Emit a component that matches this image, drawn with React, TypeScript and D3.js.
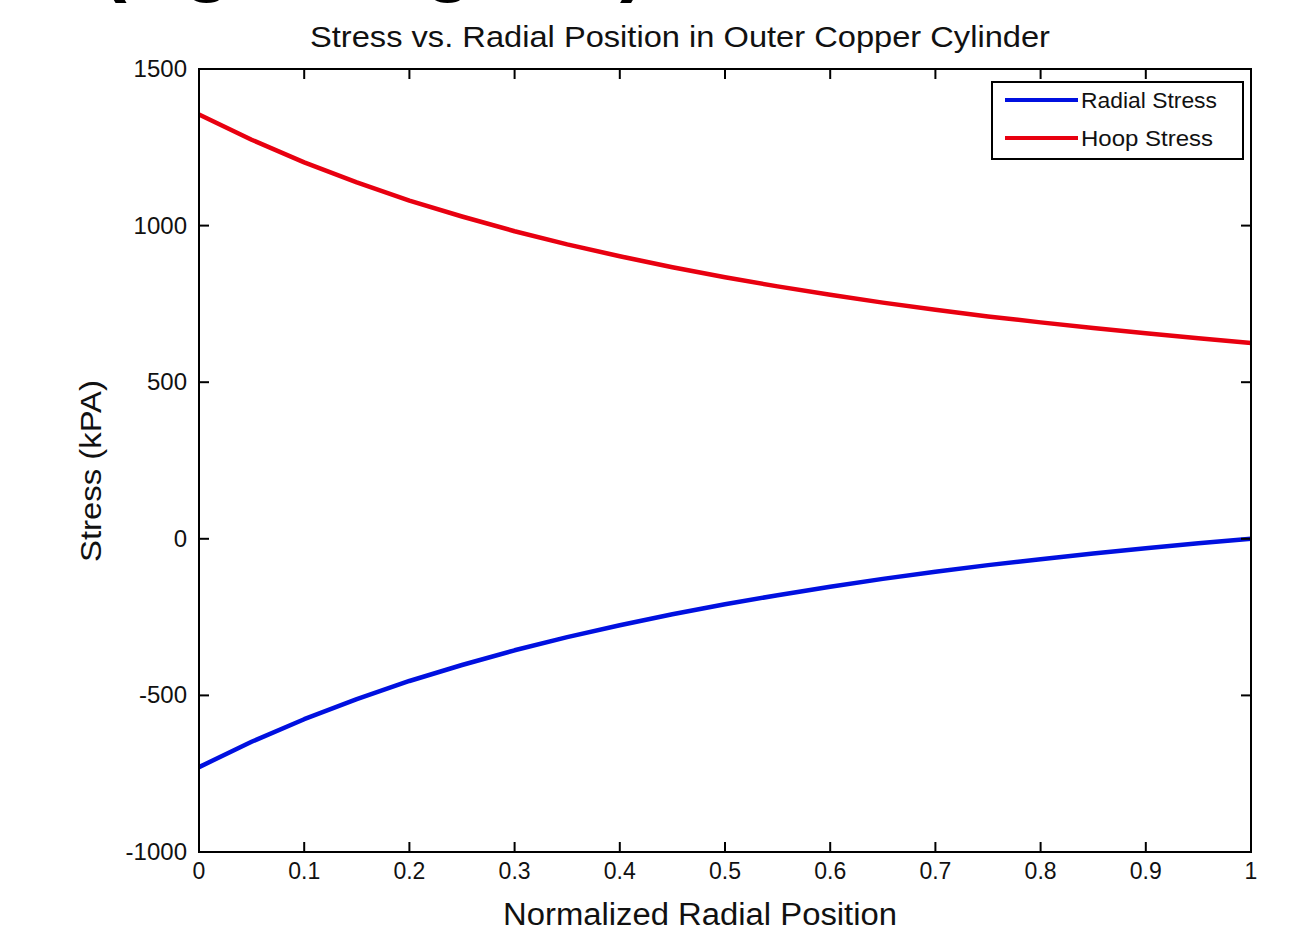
import React from "react";
import * as d3 from "d3";

// values
const positions = [0, 0.05, 0.1, 0.15, 0.2, 0.25, 0.3, 0.35, 0.4, 0.45, 0.5, 0.55, 0.6, 0.65, 0.7, 0.75, 0.8, 0.85, 0.9, 0.95, 1];
const radialStress = [-729, -648, -576, -512, -454, -403, -356, -314, -276, -241, -209, -180, -153, -128, -105, -84, -65, -47, -30, -14, 0];
const hoopStress = [1355, 1274, 1202, 1138, 1080, 1029, 982, 940, 902, 867, 835, 806, 779, 754, 731, 710, 691, 673, 656, 640, 625];
const xTicks = [0, 0.1, 0.2, 0.3, 0.4, 0.5, 0.6, 0.7, 0.8, 0.9, 1];
const yTicks = [-1000, -500, 0, 500, 1000, 1500];
const seriesNames = ["Radial Stress", "Hoop Stress"];
const seriesColors = ["#0010e0", "#e80010"];

const W = 1292;
const H = 941;
const margin = { left: 199, right: 41, top: 69, bottom: 89 };
const font = "'Liberation Sans', Arial, sans-serif";

export default function App() {
  const x = d3.scaleLinear().domain([0, 1]).range([margin.left, W - margin.right]);
  const y = d3.scaleLinear().domain([-1000, 1500]).range([H - margin.bottom, margin.top]);
  const line = d3
    .line<number>()
    .x((d, i) => x(positions[i]))
    .y(d => y(d));
  const series = [radialStress, hoopStress];
  const x0 = x(0), x1 = x(1), y0 = y(-1000), y1 = y(1500);
  const tick = 10;

  return (
    <svg
      width={W}
      height={H}
      style={{ position: "absolute", left: 0, top: 0, background: "#fff" }}
      fontFamily={font}
    >
      {/* cropped heading at the very top of the picture */}
      <g fontSize={80} fontWeight="bold" fill="#000">
        <text x={100} y={-14}>(</text>
        <text x={183} y={-14}>g</text>
        <text x={424} y={-14}>g</text>
        <text x={620} y={-14}>)</text>
      </g>

      <text
        x={310}
        y={47}
        fontSize={29}
        fill="#111"
        textLength={740}
        lengthAdjust="spacingAndGlyphs"
      >
        Stress vs. Radial Position in Outer Copper Cylinder
      </text>

      {/* data */}
      {series.map((s, i) => (
        <path
          key={i}
          d={line(s) || ""}
          fill="none"
          stroke={seriesColors[i]}
          strokeWidth={4.5}
          strokeLinejoin="round"
        />
      ))}

      {/* axes box and ticks */}
      <rect x={x0} y={y1} width={x1 - x0} height={y0 - y1} fill="none" stroke="#000" strokeWidth={2} />
      {xTicks.map(t => (
        <g key={"x" + t}>
          <line x1={x(t)} x2={x(t)} y1={y0} y2={y0 - tick} stroke="#000" strokeWidth={2} />
          <line x1={x(t)} x2={x(t)} y1={y1} y2={y1 + tick} stroke="#000" strokeWidth={2} />
          <text x={x(t)} y={y0 + 27} textAnchor="middle" fontSize={23} fill="#111">
            {t}
          </text>
        </g>
      ))}
      {yTicks.map(t => (
        <g key={"y" + t}>
          <line x1={x0} x2={x0 + tick} y1={y(t)} y2={y(t)} stroke="#000" strokeWidth={2} />
          <line x1={x1} x2={x1 - tick} y1={y(t)} y2={y(t)} stroke="#000" strokeWidth={2} />
          <text x={x0 - 12} y={y(t) + 8} textAnchor="end" fontSize={24} fill="#111">
            {t}
          </text>
        </g>
      ))}

      <text
        x={503}
        y={925}
        fontSize={31}
        fill="#111"
        textLength={394}
        lengthAdjust="spacingAndGlyphs"
      >
        Normalized Radial Position
      </text>
      <text
        transform={`translate(101,562) rotate(-90)`}
        fontSize={30}
        fill="#111"
        textLength={182}
        lengthAdjust="spacingAndGlyphs"
      >
        Stress (kPA)
      </text>

      {/* legend */}
      <g transform="translate(992,82)">
        <rect width={251} height={77} fill="#fff" stroke="#000" strokeWidth={2} />
        {seriesNames.map((n, i) => (
          <g key={n} transform={`translate(0,${18 + i * 38})`}>
            <line x1={13} x2={86} y1={0} y2={0} stroke={seriesColors[i]} strokeWidth={4} />
            <text
              x={89}
              y={8}
              fontSize={22}
              fill="#111"
              textLength={i === 0 ? 136 : 132}
              lengthAdjust="spacingAndGlyphs"
            >
              {n}
            </text>
          </g>
        ))}
      </g>
    </svg>
  );
}
